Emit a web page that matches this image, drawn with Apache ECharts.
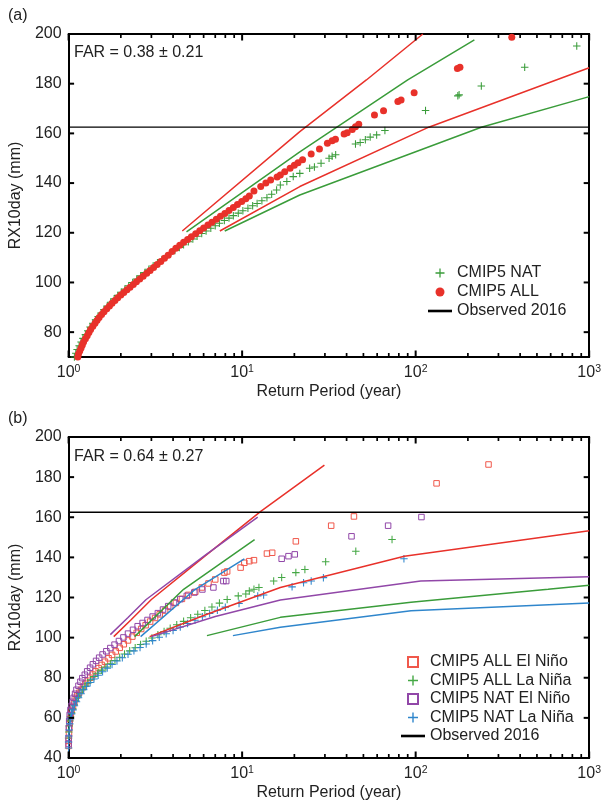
<!DOCTYPE html>
<html><head><meta charset="utf-8">
<script src="https://cdn.jsdelivr.net/npm/echarts@6/dist/echarts.min.js"></script>
<style>html,body{margin:0;padding:0;background:#fff}#c{width:604px;height:802px}</style>
</head><body><div id="c"></div><script>
// ---------- tick values ----------
const xMajor = [1, 10, 100, 1000];
const xMinor = [2,3,4,5,6,7,8,9,20,30,40,50,60,70,80,90,200,300,400,500,600,700,800,900];
const yTicksA = [80, 100, 120, 140, 160, 180, 200];
const yTicksB = [40, 60, 80, 100, 120, 140, 160, 180, 200];
const observed2016 = 162.5;

// ---------- panel (a) ----------
const natA = [[1.08,70],[1.1,71.5],[1.12,73],[1.15,74.5],[1.18,76],[1.21,77.5],[1.25,79],[1.29,80.6],[1.33,82.1],[1.38,83.6],[1.43,85],[1.48,86.3],[1.54,87.7],[1.6,89.1],[1.67,90.5],[1.75,92],[1.83,93.4],[1.92,94.8],[2.01,96.1],[2.11,97.4],[2.22,98.7],[2.34,100],[2.47,101.4],[2.6,102.7],[2.75,104],[2.9,105.3],[3.07,106.6],[3.25,107.9],[3.45,109.2],[3.65,110.4],[3.87,111.7],[4.1,112.9],[4.35,114.1],[4.6,115.2],[4.9,116.4],[5.2,117.5],[5.5,118.6],[5.85,119.7],[6.2,120.7],[6.6,121.8],[7.0,122.8],[7.4,123.8],[7.9,124.9],[8.4,125.9],[8.9,126.9],[9.5,127.9],[10.1,128.9],[10.8,129.9],[11.5,130.9],[12.2,131.8],[13.0,132.9],[13.9,134.1],[14.8,135.5],[15.8,137.2],[16.6,139.2],[18.1,140.6],[19.7,142.6],[21.5,143.9],[24.5,146],[26.1,146.5],[28.5,148],[31.7,150],[33,150.8],[34.6,151.4],[45,155.7],[47.9,156.3],[51.3,157.4],[54.7,158.5],[59.6,159.4],[66.5,161.2],[114,169.2],[175,175.1],[178,175.5],[239,179.1],[425,186.6],[848,195.2]];
const allA = [[1.13,70],[1.14,71.2],[1.16,72.4],[1.18,73.6],[1.2,74.8],[1.22,76],[1.25,77.3],[1.28,78.6],[1.31,79.9],[1.34,81.1],[1.38,82.4],[1.42,83.6],[1.46,84.8],[1.5,85.9],[1.55,87.1],[1.6,88.2],[1.66,89.4],[1.72,90.5],[1.78,91.6],[1.85,92.7],[1.92,93.8],[2.0,95],[2.08,96],[2.17,97.1],[2.26,98.1],[2.36,99.2],[2.46,100.3],[2.57,101.4],[2.69,102.5],[2.82,103.7],[2.95,104.8],[3.09,106],[3.24,107.2],[3.4,108.4],[3.57,109.7],[3.75,111],[3.95,112.5],[4.15,113.8],[4.37,115],[4.6,116.2],[4.85,117.3],[5.1,118.4],[5.4,119.6],[5.7,120.8],[6.0,121.9],[6.35,123.1],[6.7,124.2],[7.1,125.4],[7.5,126.6],[7.95,127.8],[8.4,129],[8.9,130.2],[9.4,131.4],[9.95,132.6],[10.5,133.7],[11.0,134.8],[11.7,136.8],[12.8,138.6],[13.7,140],[14.6,141.2],[15.9,142.4],[16.6,143.3],[17.6,144.6],[18.9,146],[20,147.2],[21,148.2],[22.3,149.4],[25,151.7],[27.9,153.7],[31,156],[33,157],[34.5,157.6],[38.7,159.8],[40.3,160.3],[43.1,161.6],[45,162.7],[47,163.7],[57.9,167.4],[65.3,169.1],[79,172.8],[82.4,173.4],[98,176.4],[174,186.1],[180,186.6],[358,198.7]];
const allUpperA = [[4.52,120.7],[21.5,160.7],[52,181.5],[110,200]];
const allLowerA = [[7.44,120.7],[21.5,138.6],[119,162.5],[1000,186.4]];
const natUpperA = [[4.78,120.4],[21.5,152.6],[90,181.5],[218,197.6]];
const natLowerA = [[7.94,120.7],[21.5,135.2],[239,162.5],[1000,174.8]];

// ---------- panel (b) ----------
const allElNino = [[1.0,46],[1.0,48.5],[1.005,52],[1.01,55],[1.015,57.5],[1.02,59.5],[1.03,61.5],[1.04,63.5],[1.06,65.5],[1.08,67.5],[1.1,69.5],[1.12,71],[1.15,72.5],[1.18,74],[1.21,75.5],[1.25,77],[1.29,78.5],[1.33,80],[1.38,81.6],[1.43,83.2],[1.49,84.8],[1.55,86.4],[1.62,88],[1.7,89.7],[1.78,91.4],[1.87,93.1],[1.97,94.9],[2.08,96.7],[2.2,98.6],[2.33,100.5],[2.47,102.4],[2.62,104.3],[2.78,106.2],[2.95,108],[3.15,109.8],[3.35,111.6],[3.6,113.5],[3.85,115.4],[4.15,117.3],[4.5,119.3],[4.9,121.3],[5.37,122.8],[5.86,125],[6.4,127],[7.0,129],[7.9,132.4],[8.2,133],[9.8,134.9],[10.3,137.3],[11.0,138.1],[11.7,138.6],[13.9,141.9],[14.9,142.3],[20.4,148],[32.6,155.8],[44.1,160.4],[132,176.9],[263,186.3]];
const allLaNina = [[1.0,50],[1.003,53],[1.008,56],[1.015,58.5],[1.025,60.5],[1.04,62.5],[1.055,64.5],[1.075,66.5],[1.1,68.5],[1.13,70.5],[1.16,72.3],[1.2,74],[1.24,75.7],[1.29,77.4],[1.34,79],[1.4,80.6],[1.47,82.2],[1.55,83.8],[1.64,85.4],[1.74,87],[1.85,88.6],[1.97,90.2],[2.1,91.8],[2.25,93.4],[2.42,95],[2.6,96.6],[2.8,98.2],[3.02,99.8],[3.27,101.4],[3.55,103],[3.85,104.7],[4.2,106.4],[4.6,108.1],[5.05,109.9],[5.55,111.7],[6.1,113.5],[6.7,115.3],[7.4,117.2],[8.2,119],[9.5,120.8],[10.5,121.7],[11,123.3],[11.7,124.1],[12.5,125],[15.2,128.2],[16.9,130],[20.4,132.4],[23,134],[30.3,137.8],[45.2,143.1],[73.1,148.9]];
const natElNino = [[1.0,47],[1.0,50],[1.003,55],[1.008,58.5],[1.015,61.5],[1.025,64],[1.04,66],[1.055,68],[1.07,70],[1.09,72],[1.11,74],[1.14,76],[1.17,78],[1.2,79.8],[1.24,81.5],[1.28,83.2],[1.33,85],[1.38,86.7],[1.44,88.4],[1.5,90],[1.57,91.6],[1.65,93.2],[1.74,94.8],[1.84,96.5],[1.95,98.3],[2.07,100.1],[2.2,102],[2.35,103.9],[2.5,105.7],[2.67,107.3],[2.85,108.8],[3.05,110.5],[3.27,112.2],[3.5,114],[3.75,115.7],[4.05,117.5],[4.4,119.2],[4.8,120.8],[5.3,122.5],[5.9,124],[6.83,125],[7.8,128.2],[8.1,128.2],[16.9,139.3],[18.5,140.6],[20.1,141.5],[42.7,150.5],[69.4,155.8],[108,160.1]];
const natLaNina = [[1.0,45],[1.0,48],[1.003,51],[1.008,54],[1.015,57],[1.025,59.5],[1.04,62],[1.06,64],[1.08,66],[1.11,68],[1.14,70],[1.18,72],[1.22,74],[1.27,75.8],[1.33,77.6],[1.4,79.4],[1.48,81.2],[1.57,83],[1.67,84.8],[1.78,86.6],[1.9,88.3],[2.04,90],[2.2,91.7],[2.38,93.4],[2.58,95.1],[2.8,96.8],[3.05,98.5],[3.33,100.2],[3.65,101.9],[4.0,103.6],[4.4,105.3],[4.85,107],[5.35,108.7],[5.9,110.4],[6.5,112],[7.2,113.6],[8.0,115.2],[9.6,117],[12.3,120.8],[13.3,121.2],[19.4,125.3],[22.6,127.4],[25,128.2],[29.4,129.9],[85.6,139.3]];
const allElNinoUpper = [[1.82,100.5],[2.3,109],[3.0,119],[6,140.1],[12.8,162.9],[29.8,186]];
const allElNinoLower = [[2.93,100.5],[6,111],[16.6,125],[86,140.6],[1000,153.3]];
const natElNinoUpper = [[1.74,101.5],[2.2,110],[2.8,119],[6,140.5],[12.3,160.1]];
const natElNinoLower = [[3.0,100.5],[7,110.5],[16.6,118.8],[107,128.2],[1000,130.4]];
const allLaNinaUpper = [[2.4,100.5],[4.6,124.1],[11.8,148.9]];
const allLaNinaLower = [[6.27,101],[16.6,110.1],[94,117.6],[580,124.1],[1000,126.1]];
const natLaNinaUpper = [[2.6,100.5],[5.37,124.1],[10.3,139.3]];
const natLaNinaLower = [[8.85,101],[16.6,105.2],[94,113.4],[1000,117.2]];

// ---------- styling ----------
const FONT = 'Liberation Sans, Arial, Helvetica, sans-serif';
const TXT = '#222';
const C = {
  red: '#e8312a', green: '#3a9c3a', redSq: '#f0584b', greenB: '#45a845',
  purple: '#9147a8', blue: '#2f86cc'
};
const PLUS = 'path://M4.3,0H5.7V4.3H10V5.7H5.7V10H4.3V5.7H0V4.3H4.3Z';
const SQUARE = 'path://M0,0H10V10H0Z';
const BAR = 'path://M0,0H24V2.6H0Z';

function xAxes(grid) {
  const base = {type: 'log', logBase: 10, min: 1, max: 1000, gridIndex: grid,
    splitLine: {show: false}, axisTick: {show: false},
    axisLine: {show: true, onZero: false, lineStyle: {color: '#000', width: 2}}};
  return [
    Object.assign({}, base, {position: 'bottom',
      axisLabel: {show: true, customValues: xMajor, margin: 7,
        formatter: v => '{b|10}{s|' + Math.round(Math.log10(v)) + '}',
        rich: {b: {fontSize: 16, fontFamily: FONT, color: TXT, lineHeight: 18},
               s: {fontSize: 10.5, fontFamily: FONT, color: TXT, verticalAlign: 'top', lineHeight: 18}}},
      name: 'Return Period (year)', nameLocation: 'middle', nameGap: 27,
      nameTextStyle: {fontSize: 16, fontFamily: FONT, color: TXT}}),
    Object.assign({}, base, {position: 'top', axisLabel: {show: false}})
  ];
}
function yAxes(grid, min, max, ticks) {
  const base = {type: 'value', min: min, max: max, gridIndex: grid, splitLine: {show: false},
    axisTick: {show: false},
    axisLine: {show: true, onZero: false, lineStyle: {color: '#000', width: 2}}};
  return [
    Object.assign({}, base, {position: 'left',
      axisLabel: {show: true, customValues: ticks, margin: 7, fontSize: 16, fontFamily: FONT, color: TXT},
      name: 'RX10day (mm)', nameLocation: 'middle', nameGap: 34,
      nameTextStyle: {fontSize: 16, fontFamily: FONT, color: TXT}}),
    Object.assign({}, base, {position: 'right', axisLabel: {show: false}})
  ];
}
// inward tick marks, placed through the axis scales as tiny bar symbols
function tickMarks(name, points, xi, yi, size, offset) {
  return {type: 'scatter', name: name, data: points, xAxisIndex: xi, yAxisIndex: yi, silent: true,
    clip: false, z: 10, symbol: 'rect', symbolSize: size, symbolOffset: offset,
    itemStyle: {color: '#000', opacity: 1}};
}
function frameTicks(p, xi, yi, yMin, yMax, yVals) {
  return [
    tickMarks(p + 'tickMajB', xMajor.map(v => [v, yMin]), xi, yi, [2, 6.5], [0, -3.25]),
    tickMarks(p + 'tickMajT', xMajor.map(v => [v, yMax]), xi, yi, [2, 6.5], [0, 3.25]),
    tickMarks(p + 'tickMinB', xMinor.map(v => [v, yMin]), xi, yi, [1.7, 4], [0, -2]),
    tickMarks(p + 'tickMinT', xMinor.map(v => [v, yMax]), xi, yi, [1.7, 4], [0, 2]),
    tickMarks(p + 'tickYL', yVals.map(v => [1, v]), xi, yi, [5.5, 2], [2.75, 0]),
    tickMarks(p + 'tickYR', yVals.map(v => [1000, v]), xi, yi, [5.5, 2], [-2.75, 0])
  ];
}
function scatter(name, data, xi, yi, symbol, size, itemStyle) {
  return {type: 'scatter', name: name, data: data, xAxisIndex: xi, yAxisIndex: yi,
    symbol: symbol, symbolSize: size, itemStyle: Object.assign({opacity: 1}, itemStyle), silent: true};
}
function line(name, data, xi, yi, color, width) {
  return {type: 'line', name: name, data: data, xAxisIndex: xi, yAxisIndex: yi,
    symbol: 'none', showSymbol: false, lineStyle: {color: color, width: width}, itemStyle: {color: color},
    silent: true, z: 3};
}
function obsLine(xi, yi) {
  return line('Observed 2016', [[1, observed2016], [1000, observed2016]], xi, yi, '#000', 1.3);
}

const option = {
  animation: false,
  backgroundColor: '#fff',
  textStyle: {fontFamily: FONT},
  grid: [
    {left: 64, top: 34, width: 531, height: 323},
    {left: 64, top: 437, width: 531, height: 323}
  ],
  xAxis: xAxes(0).concat(xAxes(1)),
  yAxis: yAxes(0, 70, 200, yTicksA).concat(yAxes(1, 40, 200, yTicksB)),
  legend: [
    {orient: 'vertical', left: 428, top: 265, padding: 0, itemWidth: 24, itemHeight: 9, itemGap: 3,
     selectedMode: false, textStyle: {fontSize: 16, fontFamily: FONT, color: TXT},
     data: [{name: 'CMIP5 NAT', icon: PLUS}, {name: 'CMIP5 ALL', icon: 'circle'},
            {name: 'Observed 2016', icon: BAR}]},
    {orient: 'vertical', left: 401, top: 654, padding: 0, itemWidth: 24, itemHeight: 10, itemGap: 2.5,
     selectedMode: false, textStyle: {fontSize: 16, fontFamily: FONT, color: TXT},
     data: [{name: 'CMIP5 ALL El Niño', icon: SQUARE}, {name: 'CMIP5 ALL La Niña', icon: PLUS},
            {name: 'CMIP5 NAT El Niño', icon: SQUARE}, {name: 'CMIP5 NAT La Niña', icon: PLUS},
            {name: 'Observed 2016', icon: BAR}]}
  ],
  graphic: [
    {type: 'text', left: 8, top: 8, style: {text: '(a)', font: '16px ' + FONT, fill: TXT}},
    {type: 'text', left: 8, top: 411, style: {text: '(b)', font: '16px ' + FONT, fill: TXT}},
    {type: 'text', left: 74, top: 45, style: {text: 'FAR = 0.38 ± 0.21', font: '16px ' + FONT, fill: TXT}},
    {type: 'text', left: 74, top: 449, style: {text: 'FAR = 0.64 ± 0.27', font: '16px ' + FONT, fill: TXT}}
  ],
  series: [
    // panel a
    scatter('CMIP5 NAT', natA, 0, 0, PLUS, 7.5, {color: C.green}),
    scatter('CMIP5 ALL', allA, 0, 0, 'circle', 7, {color: C.red}),
    line('ciAllUpA', allUpperA, 0, 0, C.red, 1.5),
    line('ciAllLoA', allLowerA, 0, 0, C.red, 1.5),
    line('ciNatUpA', natUpperA, 0, 0, C.green, 1.5),
    line('ciNatLoA', natLowerA, 0, 0, C.green, 1.5),
    obsLine(0, 0),
    // panel b
    scatter('CMIP5 ALL El Niño', allElNino, 2, 2, 'rect', 5.5, {color: 'rgba(0,0,0,0)', borderColor: C.redSq, borderWidth: 1}),
    scatter('CMIP5 ALL La Niña', allLaNina, 2, 2, PLUS, 7.5, {color: C.greenB}),
    scatter('CMIP5 NAT El Niño', natElNino, 2, 2, 'rect', 5.5, {color: 'rgba(0,0,0,0)', borderColor: C.purple, borderWidth: 1}),
    scatter('CMIP5 NAT La Niña', natLaNina, 2, 2, PLUS, 7.5, {color: C.blue}),
    line('ciAllENUp', allElNinoUpper, 2, 2, C.red, 1.5),
    line('ciAllENLo', allElNinoLower, 2, 2, C.red, 1.5),
    line('ciNatENUp', natElNinoUpper, 2, 2, C.purple, 1.5),
    line('ciNatENLo', natElNinoLower, 2, 2, C.purple, 1.5),
    line('ciAllLNUp', allLaNinaUpper, 2, 2, C.green, 1.5),
    line('ciAllLNLo', allLaNinaLower, 2, 2, C.green, 1.5),
    line('ciNatLNUp', natLaNinaUpper, 2, 2, C.blue, 1.5),
    line('ciNatLNLo', natLaNinaLower, 2, 2, C.blue, 1.5),
    obsLine(2, 2)
  ].concat(frameTicks('a', 0, 0, 70, 200, yTicksA), frameTicks('b', 2, 2, 40, 200, yTicksB))
};
const chart = echarts.init(document.getElementById('c'), null, {renderer: 'canvas'});
chart.setOption(option);
</script></body></html>
